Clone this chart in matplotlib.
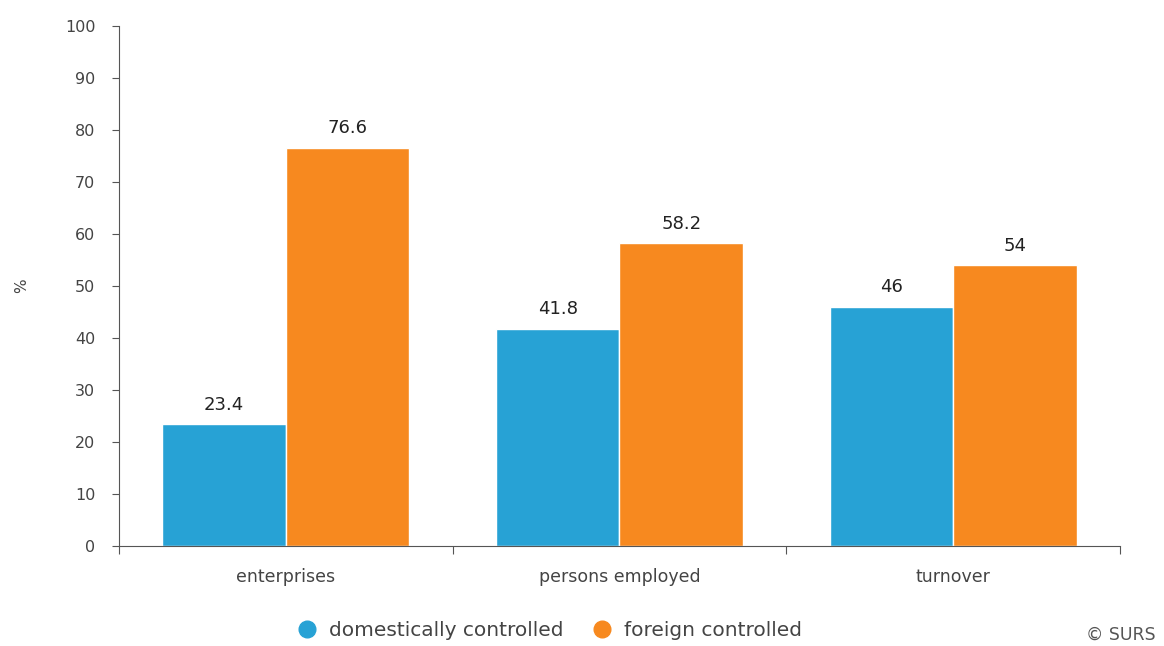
import numpy as np
import matplotlib.pyplot as plt
from matplotlib.lines import Line2D

categories = ['enterprises', 'persons employed', 'turnover']
domestic = [23.4, 41.8, 46]
foreign = [76.6, 58.2, 54]
series_names = ['domestically controlled', 'foreign controlled']
colours = ['#27a2d5', '#f7891f']

plt.rcParams['font.family'] = ['DejaVu Sans']


def main():
    fig = plt.figure(figsize=(11.64, 6.46), dpi=100)
    ax = fig.add_axes([0.1022, 0.1548, 0.86, 0.805])

    x = np.arange(len(categories))
    w = 0.37
    b1 = ax.bar(x - w / 2, domestic, w, color=colours[0], edgecolor='white', linewidth=1)
    b2 = ax.bar(x + w / 2, foreign, w, color=colours[1], edgecolor='white', linewidth=1)

    # value labels
    for bars, vals in ((b1, domestic), (b2, foreign)):
        for r, v in zip(bars, vals):
            ax.text(r.get_x() + r.get_width() / 2, v + 2.0, f'{v:g}',
                    ha='center', va='bottom', fontsize=13, color='#222222')

    ax.set_xlim(-0.5, len(categories) - 0.5)
    ax.set_ylim(0, 100)
    ax.set_yticks(range(0, 101, 10))
    ax.set_xticks(np.arange(-0.5, len(categories), 1))
    ax.set_xticklabels([])
    ax.set_xticks(x, minor=True)
    ax.set_xticklabels(categories, minor=True)
    ax.tick_params(axis='x', which='minor', length=0, pad=16, labelsize=12.5, labelcolor='#444444')
    ax.tick_params(axis='x', which='major', length=6, color='#555555', direction='out')
    ax.tick_params(axis='y', length=5, color='#555555', labelsize=11.5, labelcolor='#444444', pad=12)

    for s in ('top', 'right'):
        ax.spines[s].set_visible(False)
    ax.spines['left'].set_color('#555555')
    ax.spines['bottom'].set_color('#555555')

    ax.set_ylabel('%', fontsize=11, color='#444444', labelpad=26)

    handles = [Line2D([], [], marker='o', linestyle='', markersize=12,
                      markerfacecolor=c, markeredgecolor=c) for c in colours]
    fig.legend(handles, series_names, loc='center', bbox_to_anchor=(0.468, 0.024),
               ncol=2, frameon=False, fontsize=14.5, handletextpad=0.1,
               columnspacing=0.9, labelcolor='#444444')

    fig.text(0.993, 0.004, '© SURS', ha='right', va='bottom', fontsize=12.5, color='#555555')

    fig.savefig('out.png', dpi=100)


if __name__ == '__main__':
    main()
